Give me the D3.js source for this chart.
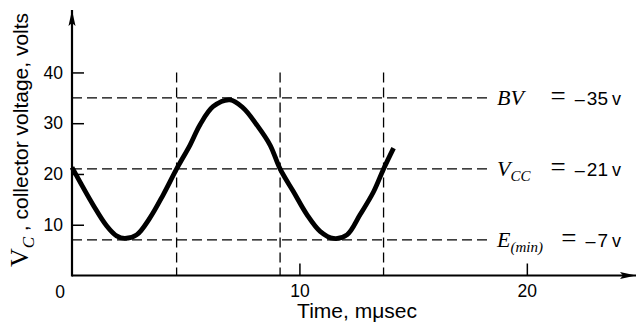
<!DOCTYPE html>
<html>
<head>
<meta charset="utf-8">
<script src="https://cdn.jsdelivr.net/npm/d3@7"></script>
<style>
  html, body { margin: 0; padding: 0; background: #fff; }
  svg { display: block; }
  .sans { font-family: "Liberation Sans", Arial, Helvetica, sans-serif; }
  .serif { font-family: "Liberation Serif", "Times New Roman", serif; font-style: italic; }
  .math { font-family: "Liberation Serif", "Times New Roman", serif; }
</style>
</head>
<body>
<svg id="chart" width="638" height="328"></svg>
<script>
// Collector voltage waveform, V_C (volts) against time (mμsec)
const timeValues = [0, 0.93, 1.52, 1.96, 2.32, 2.84, 3.42, 4.01, 4.6, 5.19, 5.63, 6.21, 6.95,
                    7.53, 8.12, 8.71, 9.15, 9.74, 10.33, 10.91, 11.5, 12.09, 12.67, 13.26, 13.7, 14.14];
const voltageValues = [21.3, 13.9, 9.8, 7.8, 7.3, 8.0, 11.3, 15.9, 21.0, 25.7, 29.7, 33.3, 34.6,
                       33.0, 29.7, 25.7, 21.0, 16.5, 12.0, 8.7, 7.3, 8.0, 12.0, 16.5, 21.0, 25.1];

// Reference levels drawn as dashed horizontals, with their labels
const levelValues = [35, 21, 7];
const levelSymbols = ["BV", "V", "E"];
const levelSubscripts = ["", "CC", "(min)"];
const levelNumbers = ["35", "21", "7"];

// Times of the dashed verticals (crossings through V_CC)
const markerTimes = [4.6, 9.15, 13.7];

const xTickValues = [10, 20];
const yTickValues = [10, 20, 30, 40];

const svg = d3.select("#chart");

const x = d3.scaleLinear().domain([0, 24.8]).range([72, 636]);
const y = d3.scaleLinear().domain([0, 52.3]).range([275.5, 10]);

// Arrowheads for the axes
const defs = svg.append("defs");
defs.append("marker")
  .attr("id", "arrow")
  .attr("viewBox", "0 0 16 8")
  .attr("refX", 16).attr("refY", 4)
  .attr("markerWidth", 16).attr("markerHeight", 8)
  .attr("markerUnits", "userSpaceOnUse")
  .attr("orient", "auto")
  .append("path")
  .attr("d", "M0,0.5 L16,4 L0,7.5 L3,4 Z")
  .attr("fill", "#000");

const dash = "10,5";

// Dashed horizontal reference lines
svg.append("g")
  .selectAll("line")
  .data(levelValues)
  .join("line")
  .attr("x1", x(0)).attr("x2", x(18.4))
  .attr("y1", d => y(d)).attr("y2", d => y(d))
  .attr("stroke", "#000").attr("stroke-width", 1.3)
  .attr("stroke-dasharray", dash);

// Dashed vertical markers
svg.append("g")
  .selectAll("line")
  .data(markerTimes)
  .join("line")
  .attr("x1", d => x(d)).attr("x2", d => x(d))
  .attr("y1", y(40)).attr("y2", y(0))
  .attr("stroke", "#000").attr("stroke-width", 1.3)
  .attr("stroke-dasharray", dash);

// Axes with inward ticks
const yAxis = d3.axisLeft(y)
  .tickValues(yTickValues)
  .tickSizeInner(-12).tickSizeOuter(0)
  .tickPadding(9);
const gy = svg.append("g").attr("class", "sans").attr("transform", `translate(${x(0)},0)`).call(yAxis);
gy.select(".domain").remove();
gy.selectAll(".tick line").attr("stroke-width", 1.5);
gy.selectAll(".tick text").attr("font-size", 17.5).attr("fill", "#000");

const xAxis = d3.axisBottom(x)
  .tickValues(xTickValues)
  .tickSizeInner(-12).tickSizeOuter(0)
  .tickPadding(9.5);
const gx = svg.append("g").attr("class", "sans").attr("transform", `translate(0,${y(0)})`).call(xAxis);
gx.select(".domain").remove();
gx.selectAll(".tick line").attr("stroke-width", 1.5);
gx.selectAll(".tick text").attr("font-size", 17.5).attr("fill", "#000");

// Origin label sits left of the axis corner
svg.append("text").attr("class", "sans")
  .attr("x", x(0) - 12).attr("y", y(0) + 22)
  .attr("text-anchor", "middle").attr("font-size", 17.5)
  .text("0");

// Axis lines with arrows
svg.append("line")
  .attr("x1", x(0)).attr("x2", x(24.8))
  .attr("y1", y(0)).attr("y2", y(0))
  .attr("stroke", "#000").attr("stroke-width", 2.2)
  .attr("marker-end", "url(#arrow)");
svg.append("line")
  .attr("x1", x(0)).attr("x2", x(0))
  .attr("y1", y(0) + 1).attr("y2", y(52.3))
  .attr("stroke", "#000").attr("stroke-width", 2.2)
  .attr("marker-end", "url(#arrow)");

// Waveform
const points = timeValues.map((t, i) => [t, voltageValues[i]]);
svg.append("path")
  .datum(points)
  .attr("fill", "none")
  .attr("stroke", "#000")
  .attr("stroke-width", 4.8)
  .attr("stroke-linecap", "butt")
  .attr("d", d3.line().x(d => x(d[0])).y(d => y(d[1])).curve(d3.curveCatmullRom.alpha(0.5)));

// Level labels: italic symbol on the left, "= – value v" ending at the right edge
const labels = svg.append("g");
levelValues.forEach((v, i) => {
  const t = labels.append("text")
    .attr("x", 497).attr("y", y(v) + 7);
  t.append("tspan").attr("class", "serif").attr("font-size", 22).text(levelSymbols[i]);
  if (levelSubscripts[i]) {
    t.append("tspan").attr("class", "serif").attr("font-size", 15).attr("dy", 5).text(levelSubscripts[i]);
  }
  const val = labels.append("text")
    .attr("x", 621).attr("y", y(v) + 7)
    .attr("text-anchor", "end");
  val.append("tspan").attr("class", "math").attr("font-size", 27).text("=");
  val.append("tspan").attr("class", "sans").attr("font-size", 18).attr("dx", 9).text("\u2013");
  val.append("tspan").attr("class", "sans").attr("font-size", 19).attr("dx", 2).text(levelNumbers[i]);
  val.append("tspan").attr("class", "sans").attr("font-size", 18).attr("dx", 4).text("v");
});

// Axis titles
svg.append("text").attr("class", "sans")
  .attr("x", 357).attr("y", 318)
  .attr("text-anchor", "middle").attr("font-size", 21)
  .text("Time, m\u03bcsec");

const yTitle = svg.append("text")
  .attr("transform", "translate(28,140) rotate(-90)")
  .attr("text-anchor", "middle");
yTitle.append("tspan").attr("class", "math").attr("font-size", 26).text("V");
yTitle.append("tspan").attr("class", "serif").attr("font-size", 17).attr("dy", 6).text("C");
yTitle.append("tspan").attr("class", "sans").attr("font-size", 21).attr("dy", -6).text(" , collector voltage, volts");
</script>
</body>
</html>
